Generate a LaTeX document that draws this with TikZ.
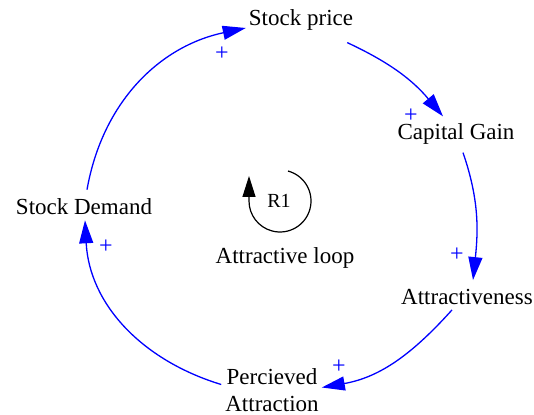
\documentclass[tikz,border=0pt]{standalone}
\usepackage{fontspec}
\setmainfont{Liberation Serif}
\usetikzlibrary{arrows.meta}
\definecolor{lnk}{RGB}{0,0,255}
\tikzset{
  var/.style={inner sep=3pt, font=\fontsize{23}{27}\selectfont, align=center},
  link/.style={draw=lnk, line width=1.3pt, -{Triangle[length=23pt,width=14pt]}},
  pol/.style={text=lnk, font=\fontsize{24}{24}\selectfont, inner sep=0pt},
}
\begin{document}
\begin{tikzpicture}[x=1pt,y=1pt]
\useasboundingbox (0,0) rectangle (534,414);
\node[var] (sp) at (301,394) {Stock price};
\node[var] (cg) at (456,280) {Capital Gain};
\node[var] (at) at (467,117) {Attractiveness};
\node[var] (pa) at (272,23.5) {Percieved\\Attraction};
\node[var] (sd) at (84,207) {Stock Demand};
\node[var, font=\fontsize{20}{20}\selectfont] (r1) at (279,213) {R1};
\node[var] (ll) at (285,156) {Attractive loop};
\coordinate (lc) at (280,213);

\draw[link] ([xshift=3pt,yshift=6pt]sd.north) to[out=80,in=192] ([yshift=-8pt]sp.west);
\draw[link] ([xshift=-9pt,yshift=-9pt]sp.south east) to[out=-25,in=130] ([xshift=-13pt,yshift=4pt]cg.north);
\draw[link] ([xshift=7pt,yshift=-5pt]cg.south) to[out=-71,in=84] ([xshift=6pt,yshift=6pt]at.north);
\draw[link] ([xshift=-15pt,yshift=-2pt]at.south) to[out=-132,in=10] ([yshift=3pt]pa.east);
\draw[link] ([xshift=-1pt,yshift=6pt]pa.west) to[out=163,in=-87] ([xshift=1pt,yshift=-2pt]sd.south);

\node[pol] (p1) at (222,360) {+};
\node[pol] (p2) at (411,298) {+};
\node[pol] (p3) at (457,159) {+};
\node[pol] (p4) at (339,47) {+};
\node[pol] (p5) at (106,167) {+};

\draw[line width=1.2pt, -{Triangle[length=21pt,width=13pt]}]
  (lc) ++(75:31) arc[start angle=75, end angle=-180, radius=31] -- ++(0,25);
\end{tikzpicture}
\end{document}
